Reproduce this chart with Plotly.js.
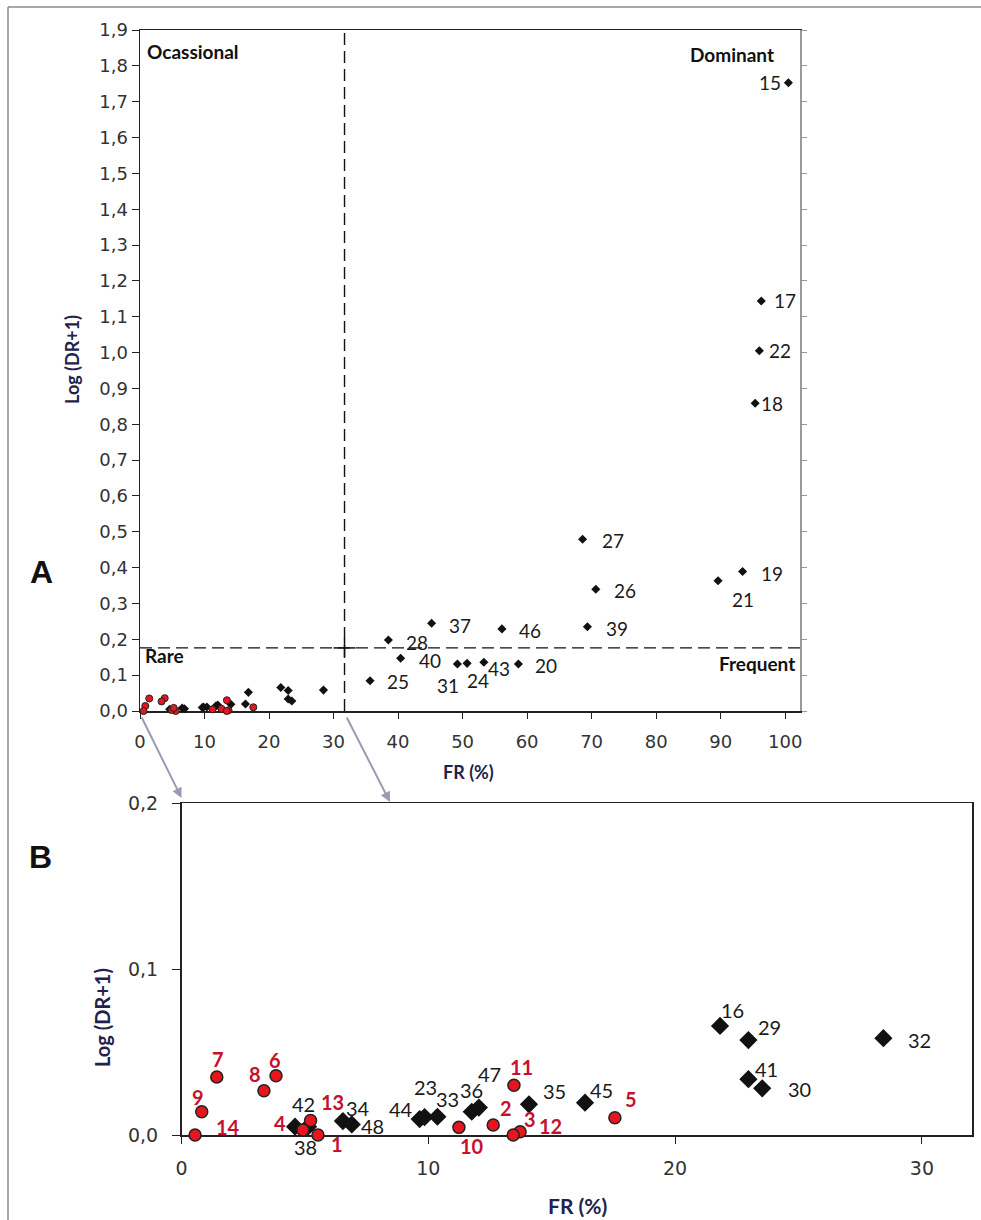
<!DOCTYPE html>
<html>
<head>
<meta charset="utf-8">
<script src="https://cdn.plot.ly/plotly-3.0.1.min.js"></script>
<style>html,body{margin:0;padding:0;background:#fff;}#chart{width:981px;height:1220px;}</style>
</head>
<body>
<div id="chart"></div>
<script>
// ---- data ----
// species with FR < 32 % shown in both panels (black diamonds)
const idsBlack = ['38','42','34','48','44','23','33','36','47','35','45','16','29','41','30','32'];
const frBlack  = [4.6, 5.13, 6.54, 6.9, 9.65, 9.85, 10.37, 11.76, 12.05, 14.08, 16.35, 21.82, 22.97, 22.97, 23.53, 28.44];
const drBlack  = [0.005, 0.005, 0.0084, 0.0064, 0.0096, 0.0108, 0.011, 0.014, 0.0165, 0.0185, 0.0195, 0.0657, 0.0572, 0.0336, 0.0281, 0.0583];
// red circles
const idsRed = ['1','2','3','4','5','6','7','8','9','10','11','12','13','14'];
const frRed  = [5.53, 12.63, 13.72, 4.92, 17.56, 3.83, 1.43, 3.34, 0.82, 11.24, 13.47, 13.44, 5.23, 0.55];
const drRed  = [0.0, 0.006, 0.002, 0.003, 0.0104, 0.0357, 0.035, 0.0267, 0.014, 0.0046, 0.030, 0.0, 0.0087, 0.0];
// species only labelled in panel A
const idsHigh = ['15','17','22','18','27','26','39','19','21','37','46','28','40','25','31','24','43','20'];
const frHigh  = [100.5, 96.3, 96.0, 95.35, 68.6, 70.65, 69.35, 93.4, 89.6, 45.2, 56.1, 38.5, 40.4, 35.66, 49.2, 50.7, 53.3, 58.65];
const drHigh  = [1.753, 1.144, 1.005, 0.8585, 0.479, 0.3395, 0.235, 0.389, 0.3636, 0.2447, 0.229, 0.198, 0.147, 0.0846, 0.131, 0.133, 0.136, 0.131];
// unlabelled point visible in panel A
const frExtra = [16.8];
const drExtra = [0.052];
// quadrant thresholds
const frThreshold = 31.7;
const drThreshold = 0.176;

// ---- label offsets (pixels, dx right, dy up) ----
const offBlack = [[10,-20],[-5,23],[15,13],[21,-2],[-19,10],[1,30],[10,18],[0,22],[11,34],[26,13],[16,13],[12,16],[21,13],[18,10],[37,-1],[36,-2]];
const offRed   = [[19,-9],[13,17],[10,13],[-23,7],[16,19],[-1,16],[1,18],[-9,17],[-4,15],[13,-19],[8,18],[37,9],[22,19],[33,8]];
const offHigh  = [[-18,0],[24,0],[21,0],[17,0],[30,-1],[29,-1],[30,-2],[29,-2],[25,-19],[28,-2],[28,-2],[29,-2],[29,-2],[28,-1],[-9,-21],[11,-17],[15,-6],[28,-1]];

const RED = '#e8151f', REDTXT = '#c8102e', DARK = '#111';
const tickFont = {family: 'DejaVu Sans', size: 18, color: '#333'};

const traces = [
  {x: frBlack, y: drBlack, xaxis: 'x', yaxis: 'y', mode: 'markers', cliponaxis: false,
   marker: {symbol: 'diamond', size: 7, color: DARK}, hoverinfo: 'skip', showlegend: false},
  {x: frExtra, y: drExtra, xaxis: 'x', yaxis: 'y', mode: 'markers', cliponaxis: false,
   marker: {symbol: 'diamond', size: 7, color: DARK}, hoverinfo: 'skip', showlegend: false},
  {x: frHigh, y: drHigh, xaxis: 'x', yaxis: 'y', mode: 'markers', cliponaxis: false,
   marker: {symbol: 'diamond', size: 7, color: DARK}, hoverinfo: 'skip', showlegend: false},
  {x: frRed, y: drRed, xaxis: 'x', yaxis: 'y', mode: 'markers', cliponaxis: false,
   marker: {symbol: 'circle', size: 7, color: RED, line: {color: '#222', width: 1}}, hoverinfo: 'skip', showlegend: false},
  {x: frBlack, y: drBlack, xaxis: 'x2', yaxis: 'y2', mode: 'markers', cliponaxis: false,
   marker: {symbol: 'diamond', size: 14, color: DARK}, hoverinfo: 'skip', showlegend: false},
  {x: frRed, y: drRed, xaxis: 'x2', yaxis: 'y2', mode: 'markers', cliponaxis: false,
   marker: {symbol: 'circle', size: 12, color: RED, line: {color: '#222', width: 1.5}}, hoverinfo: 'skip', showlegend: false},
  {x: [], y: [], xaxis: 'x', yaxis: 'y3', mode: 'markers', hoverinfo: 'skip', showlegend: false}
];

const annotations = [];
function addLabels(ids, xs, ys, offs, xref, yref, font) {
  ids.forEach((t, i) => annotations.push({
    x: xs[i], y: ys[i], xref: xref, yref: yref, text: t, showarrow: false,
    xanchor: 'center', yanchor: 'middle', xshift: offs[i][0], yshift: offs[i][1], font: font
  }));
}
addLabels(idsHigh, frHigh, drHigh, offHigh, 'x', 'y', {family: 'Lato', size: 19, color: '#1a1a1a'});
addLabels(idsBlack, frBlack, drBlack, offBlack, 'x2', 'y2', {family: 'Lato', size: 20, color: '#1a1a1a'});
addLabels(idsRed, frRed, drRed, offRed, 'x2', 'y2', {family: 'Lato', size: 20, color: REDTXT, weight: 'bold'});

const bold = (s) => ({family: 'Lato', size: s, color: DARK, weight: 'bold'});
const txt = (text, x, y, xa, font, extra) => Object.assign({text, x, y, xref: 'paper', yref: 'paper',
  showarrow: false, xanchor: xa, yanchor: 'middle', font}, extra || {});
annotations.push(
  txt('Ocassional', 145/981, 1-51/1220, 'left', bold(19)),
  txt('Dominant', 776/981, 1-55/1220, 'right', bold(19)),
  txt('Rare', 143/981, 1-655/1220, 'left', bold(19)),
  txt('Frequent', 797/981, 1-663/1220, 'right', bold(19)),
  txt('A', 41/981, 1-572/1220, 'center', {family: 'Liberation Sans', size: 32, color: DARK, weight: 'bold'}),
  txt('B', 40/981, 1-857/1220, 'center', {family: 'Liberation Sans', size: 32, color: DARK, weight: 'bold'}),
  txt('Log (DR+1)', 72/981, 1-360/1220, 'center', {family: 'Lato', size: 18, color: '#22224a', weight: 'bold'}, {textangle: -90}),
  txt('Log (DR+1)', 102/981, 1-1018/1220, 'center', {family: 'Lato', size: 20, color: '#22224a', weight: 'bold'}, {textangle: -90}),
  txt('FR (%)', 468/981, 1-772/1220, 'center', {family: 'Lato', size: 18, color: '#22224a', weight: 'bold'}),
  txt('FR (%)', 577/981, 1-1205/1220, 'center', {family: 'Lato', size: 21, color: '#22224a', weight: 'bold'}),
  // connector arrows from panel A to panel B
  {x: 181.5/981, y: 1-798/1220, xref: 'paper', yref: 'paper', ax: -40.5, ay: -82, axref: 'pixel', ayref: 'pixel',
   showarrow: true, arrowhead: 2, arrowsize: 1, arrowwidth: 2, arrowcolor: '#9a9ab4', text: ''},
  {x: 390/981, y: 1-802/1220, xref: 'paper', yref: 'paper', ax: -44, ay: -86, axref: 'pixel', ayref: 'pixel',
   showarrow: true, arrowhead: 2, arrowsize: 1, arrowwidth: 2, arrowcolor: '#9a9ab4', text: ''}
);

const shapes = [
  {type: 'line', xref: 'paper', yref: 'paper', x0: 8/981, x1: 1, y0: 1-7/1220, y1: 1-7/1220, line: {color: '#8a8a8a', width: 1.5}},
  {type: 'line', xref: 'paper', yref: 'paper', x0: 8/981, x1: 8/981, y0: 0, y1: 1-7/1220, line: {color: '#8a8a8a', width: 1.5}},
  {type: 'line', xref: 'x', yref: 'y', x0: frThreshold, x1: frThreshold, y0: 0, y1: 1.9, line: {color: DARK, width: 1.4, dash: '12px,6px'}},
  {type: 'line', xref: 'x', yref: 'y', x0: 0, x1: 102.3, y0: drThreshold, y1: drThreshold, line: {color: DARK, width: 1.4, dash: '12px,6px'}},
  {type: 'line', xref: 'x', yref: 'y', x0: frThreshold - 1.7, x1: frThreshold + 1.7, y0: drThreshold, y1: drThreshold, line: {color: DARK, width: 1.5}},
  {type: 'line', xref: 'x', yref: 'y', x0: frThreshold, x1: frThreshold, y0: drThreshold - 0.028, y1: drThreshold + 0.028, line: {color: DARK, width: 1.5}}
];

const layout = {
  width: 981, height: 1220, autosize: false,
  margin: {l: 0, r: 0, t: 0, b: 0},
  paper_bgcolor: '#fff', plot_bgcolor: 'rgba(0,0,0,0)',
  separators: ',.',
  showlegend: false,
  xaxis: {domain: [140/981, 800/981], anchor: 'y', range: [0, 102.3], dtick: 10, tick0: 0,
    ticks: 'outside', ticklen: 6, tickcolor: '#222', showline: true, mirror: true, linecolor: '#222', linewidth: 1.5,
    showgrid: false, zeroline: false, tickfont: tickFont, ticklabelstandoff: 8, layer: 'below traces'},
  yaxis: {domain: [1-711/1220, 1-30/1220], anchor: 'x', range: [0, 1.9], dtick: 0.1, tick0: 0, tickformat: '.1f',
    ticks: 'outside', ticklen: 7, tickcolor: '#222', showline: true, linecolor: '#222', linewidth: 1.5,
    showgrid: false, zeroline: false, tickfont: tickFont, layer: 'below traces'},
  yaxis3: {overlaying: 'y', anchor: 'x', side: 'right', range: [0, 1.9], dtick: 0.1, tick0: 0,
    ticks: 'outside', ticklen: 5, tickcolor: '#999', showline: true, linecolor: '#999', linewidth: 1.5,
    showticklabels: false, showgrid: false, zeroline: false},
  xaxis2: {domain: [181.5/981, 972/981], anchor: 'y2', range: [0, 32.03], dtick: 10, tick0: 0,
    ticks: 'outside', ticklen: 7, tickcolor: '#222', showline: true, mirror: true, linecolor: '#222', linewidth: 1.5,
    showgrid: false, zeroline: false, tickfont: Object.assign({}, tickFont, {size: 19}), ticklabelstandoff: 9, layer: 'below traces'},
  yaxis2: {domain: [1-1135/1220, 1-803/1220], anchor: 'x2', range: [0, 0.2], dtick: 0.1, tick0: 0, tickformat: '.1f',
    ticks: 'outside', ticklen: 8, tickcolor: '#222', showline: true, mirror: true, linecolor: '#222', linewidth: 1.5,
    showgrid: false, zeroline: false, tickfont: Object.assign({}, tickFont, {size: 19}), ticklabelstandoff: 10, layer: 'below traces'},
  annotations: annotations,
  shapes: shapes
};

Plotly.newPlot('chart', traces, layout, {staticPlot: true, displayModeBar: false});
</script>
</body>
</html>
